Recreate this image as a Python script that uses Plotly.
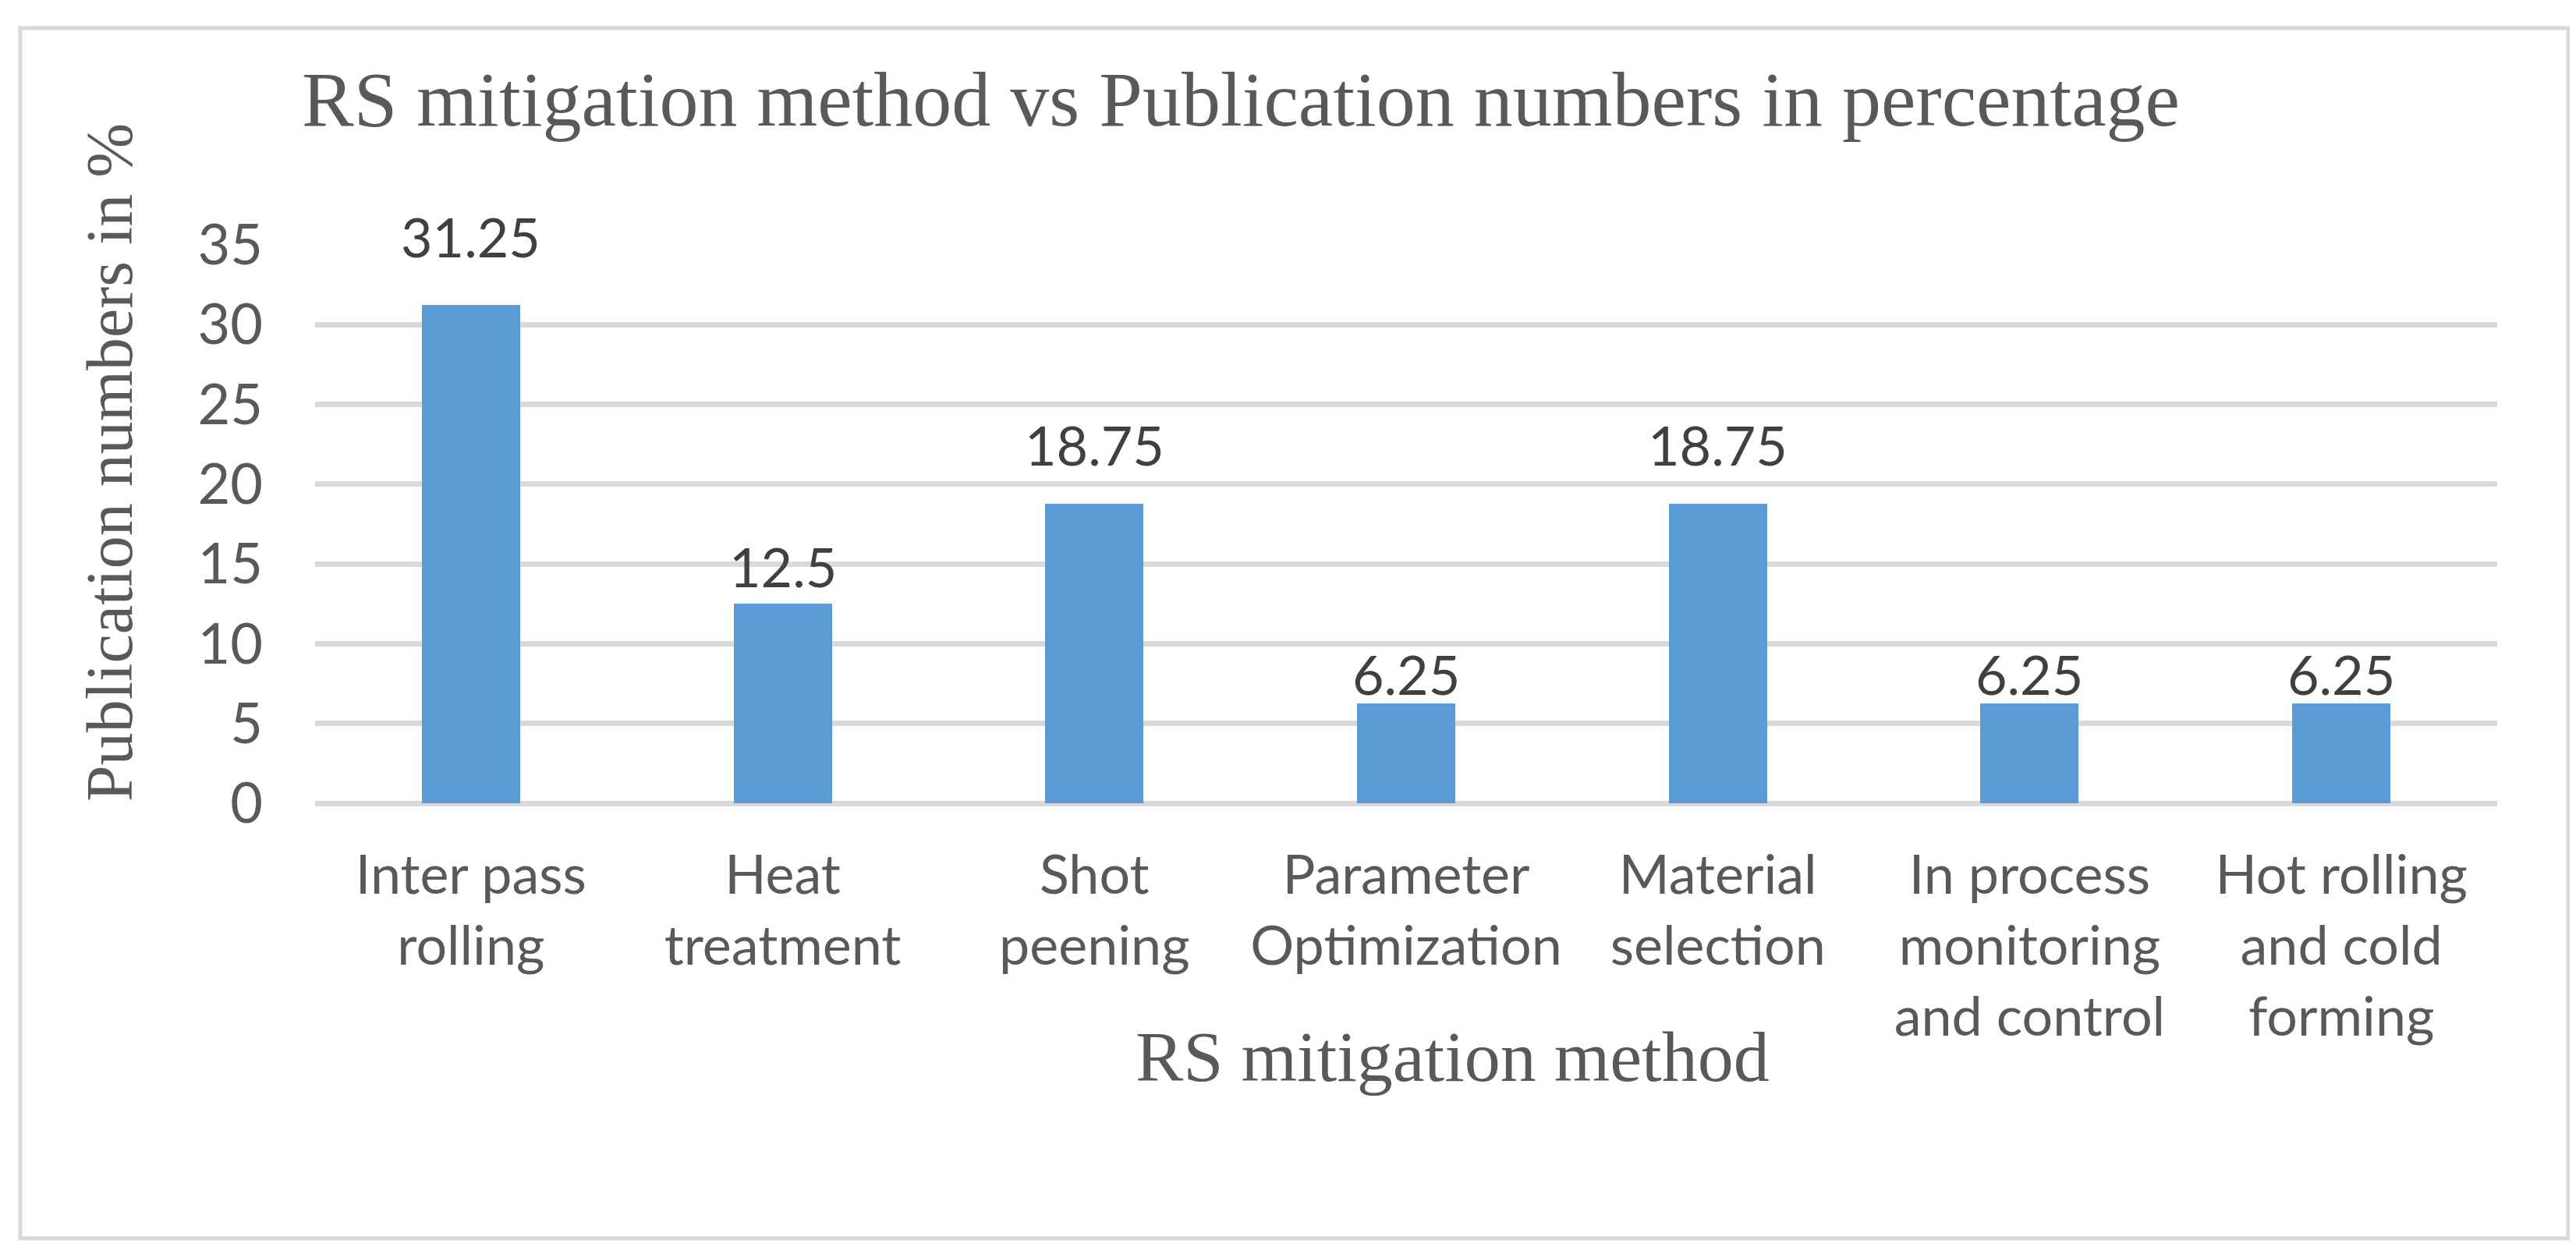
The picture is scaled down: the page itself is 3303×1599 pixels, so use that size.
import plotly.graph_objects as go

categories = ["Inter pass<br>rolling", "Heat<br>treatment", "Shot<br>peening",
              "Parameter<br>Optimization", "Material<br>selection",
              "In process<br>monitoring<br>and control", "Hot rolling<br>and cold<br>forming"]
values = [31.25, 12.5, 18.75, 6.25, 18.75, 6.25, 6.25]
value_labels = ["31.25", "12.5", "18.75", "6.25", "18.75", "6.25", "6.25"]
y_ticks = [0, 5, 10, 15, 20, 25, 30, 35]

title_text = "RS mitigation method vs Publication numbers in percentage"
x_title = "RS mitigation method"
y_title = "Publication numbers in %"

W, H = 3303, 1599
L, R, T, B = 396, 3194, 306, 1022  # plot area pixel box

def px_x(p):
    return (p - L) / (R - L)

def px_y(p):
    return (B - p) / (B - T)

# vertical gap (px) between bar top and label centre, as placed in the reference
label_gap = {31.25: 88, 18.75: 76, 12.5: 48, 6.25: 38}

serif = "Liberation Serif, Times New Roman, serif"
sans = "Lato, Calibri, sans-serif"
grey = "#595959"

fig = go.Figure()
fig.add_trace(go.Bar(
    x=categories, y=values, marker=dict(color="#5b9bd5", line=dict(width=0)),
    width=0.315, hoverinfo="skip", showlegend=False,
))

for c, v, t in zip(categories, values, value_labels):
    fig.add_annotation(x=c, y=v, xref="x", yref="y", text=t, showarrow=False,
                       yanchor="middle", yshift=label_gap[v],
                       font=dict(family=sans, size=70, color="#404040"))

fig.add_annotation(xref="paper", yref="paper", x=px_x(1854), y=px_y(1347),
                   text=x_title, showarrow=False, xanchor="center", yanchor="middle",
                   font=dict(family=serif, size=92, color=grey))
fig.add_annotation(xref="paper", yref="paper", x=px_x(132), y=px_y(585),
                   text=y_title, showarrow=False, textangle=-90,
                   xanchor="center", yanchor="middle",
                   font=dict(family=serif, size=84, color=grey))

fig.add_shape(type="rect", xref="paper", yref="paper",
              x0=px_x(18), x1=px_x(3285), y0=px_y(28), y1=px_y(1580),
              line=dict(color="#d9d9d9", width=5), layer="below")

fig.update_layout(
    width=W, height=H,
    margin=dict(l=L, r=W - R, t=T, b=H - B, autoexpand=False),
    paper_bgcolor="white", plot_bgcolor="white",
    title=dict(text=title_text, xref="container", yref="container",
               x=1583 / W, y=1 - 118 / H, xanchor="center", yanchor="middle",
               font=dict(family=serif, size=100, color=grey)),
    bargap=0,
)
fig.update_xaxes(
    showline=False, showgrid=False, zeroline=False, ticks="",
    tickfont=dict(family=sans, size=70, color=grey),
    ticklabelstandoff=45, automargin=False, fixedrange=True,
)
fig.update_yaxes(
    range=[0, 35], tickvals=y_ticks, ticktext=[str(t) for t in y_ticks],
    showgrid=True, gridcolor="#d9d9d9", gridwidth=7,
    zeroline=True, zerolinecolor="#d9d9d9", zerolinewidth=7,
    showline=False, ticks="", ticklabelstandoff=66,
    tickfont=dict(family=sans, size=72, color=grey),
    automargin=False, fixedrange=True,
)

fig.write_html("out.html")
